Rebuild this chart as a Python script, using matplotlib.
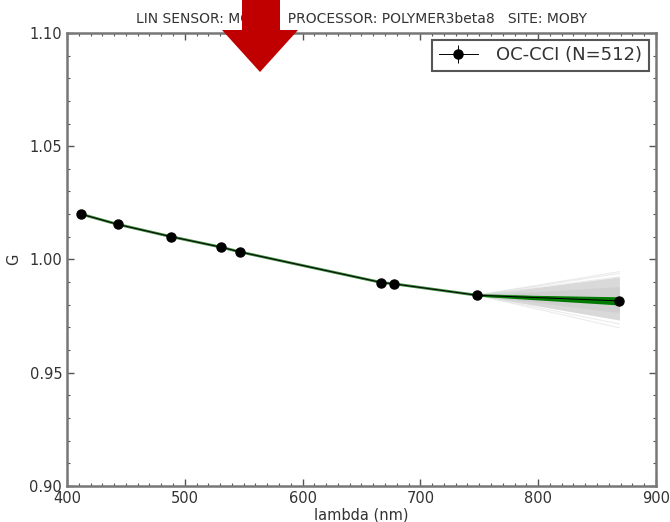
import matplotlib
matplotlib.use("Agg")
import matplotlib.pyplot as plt
from matplotlib.patches import Polygon
from matplotlib.ticker import MultipleLocator

# MODIS bands and gain factors
wavelengths = [412, 443, 488, 531, 547, 667, 678, 748, 869]
gains = [1.0200, 1.0155, 1.0101, 1.0054, 1.0033, 0.9898, 0.9892, 0.9842, 0.9817]
gain_err = [0.0004, 0.0004, 0.0003, 0.0003, 0.0003, 0.0003, 0.0003, 0.0004, 0.0005]

# spread of the extrapolated NIR gain at 869 nm (ensemble end values)
fan_start = [678, 748]
fan_ends = [0.9946, 0.9938, 0.9923, 0.9910, 0.9895, 0.9880, 0.9865, 0.9852,
            0.9790, 0.9775, 0.9760, 0.9745, 0.9733, 0.9715, 0.9698]
green_top = 0.9835
green_bot = 0.9799

fig = plt.figure(figsize=(6.7, 5.22), dpi=100)
ax = fig.add_axes([0.1, 0.069, 0.879, 0.868])

txt = '#333333'

# grey band + faint ensemble lines
ax.fill_between([wavelengths[7], wavelengths[8]],
                [gains[7], 0.9923], [gains[7], 0.9733],
                color='#dadada', lw=0, zorder=1)
for e in fan_ends:
    ax.plot([fan_start[0], fan_start[1], wavelengths[8]],
            [gains[6], gains[7], e], color='#d8d8d8', lw=0.8, alpha=0.5, zorder=1)
ax.fill_between([wavelengths[7], wavelengths[8]],
                [gains[7], 0.9880], [gains[7], 0.9765],
                color='#c8c8c8', lw=0, alpha=0.5, zorder=1)

# green ensemble of fitted spectra
ax.plot(wavelengths, gains, color='#3c8a3c', lw=2.0, zorder=2)
ax.fill_between([wavelengths[7], wavelengths[8]],
                [gains[7] + 0.0004, green_top], [gains[7] - 0.0004, green_bot],
                color='#007a00', lw=0, zorder=2)

ax.errorbar(wavelengths, gains, yerr=gain_err, fmt='-o', color='black',
            ms=6.5, lw=0.7, capsize=0, zorder=3, label='OC-CCI (N=512)')

ax.set_xlim(400, 900)
ax.set_ylim(0.90, 1.10)
ax.set_xticks([400, 500, 600, 700, 800, 900])
ax.set_yticks([0.90, 0.95, 1.00, 1.05, 1.10])
ax.xaxis.set_minor_locator(MultipleLocator(10))
ax.yaxis.set_minor_locator(MultipleLocator(0.01))
ax.tick_params(which='both', direction='in', top=True, right=True,
               colors='#555555', labelcolor=txt, labelsize=10.5)
ax.tick_params(which='major', length=5, width=1)
ax.tick_params(which='minor', length=2.5, width=0.8)
for s in ax.spines.values():
    s.set_color('#777777')
    s.set_linewidth(1.8)

ax.set_xlabel('lambda (nm)', fontsize=10.5, color=txt, labelpad=1)
ax.set_ylabel('G', fontsize=10.5, color=txt, labelpad=6)
ax.set_title('LIN SENSOR: MODIS   PROCESSOR: POLYMER3beta8   SITE: MOBY',
             fontsize=10, color=txt, pad=7)

leg = ax.legend(loc='upper right', fontsize=13, fancybox=False,
                borderaxespad=0.4, handlelength=2.2, handletextpad=1.0,
                borderpad=0.35, framealpha=1)
leg.get_frame().set_edgecolor('#555555')
leg.get_frame().set_linewidth(1.5)
for t in leg.get_texts():
    t.set_color(txt)

# red pointer arrow across the title
arrow = Polygon([[242, 522], [280, 522], [280, 492], [298, 492],
                 [260, 450], [222, 492], [242, 492]],
                closed=True, transform=None, facecolor='#c00000',
                edgecolor='none', zorder=10)
fig.patches.append(arrow)

fig.savefig('out.png', dpi=100)
